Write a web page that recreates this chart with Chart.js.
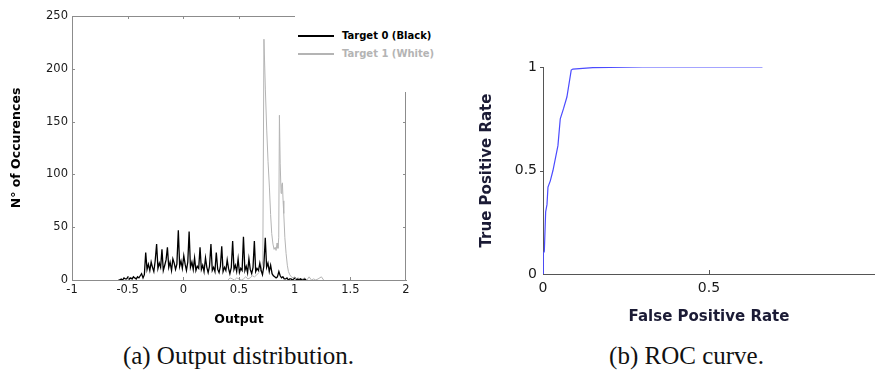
<!DOCTYPE html>
<html>
<head>
<meta charset="utf-8">
<script src="https://cdn.jsdelivr.net/npm/chart.js@4.4.1/dist/chart.umd.min.js"></script>
<style>
  html, body { margin: 0; padding: 0; background: #fff; overflow: hidden; }
  body { width: 875px; height: 378px; position: relative; }
  canvas { position: absolute; top: 0; }
  #cLeft { left: 0; }
  #cRight { left: 440px; }
  .legend { position: absolute; left: 295px; top: 0; width: 145px; height: 92px; background: #fff; z-index: 2;
            font-family: "DejaVu Sans", sans-serif; font-weight: bold; font-size: 10px; }
  .legend .row { position: absolute; left: 3px; height: 14px; line-height: 14px; white-space: nowrap; }
  .legend .sw { position: absolute; left: 0; top: 6px; width: 36px; height: 2px; }
  .legend .tx { position: absolute; left: 44px; top: 0; }
  .cap { position: absolute; top: 340px; height: 32px; line-height: 32px; text-align: center;
         font-family: "Liberation Serif", "DejaVu Serif", serif; font-size: 25px; color: #111; white-space: nowrap; }
</style>
</head>
<body>
<canvas id="cLeft" width="440" height="335"></canvas>
<canvas id="cRight" width="435" height="335"></canvas>
<div class="legend">
  <div class="row" style="top:29px"><div class="sw" style="background:#000"></div><div class="tx" style="color:#000">Target 0 (Black)</div></div>
  <div class="row" style="top:47px"><div class="sw" style="background:#b4b4b4"></div><div class="tx" style="color:#b4b4b4">Target 1 (White)</div></div>
</div>
<div class="cap" style="left:0;width:477px">(a) Output distribution.</div>
<div class="cap" style="left:498px;width:377px">(b) ROC curve.</div>
<script>
// ---------- data ----------
const seriesNames = ["Target 0 (Black)", "Target 1 (White)"];

const target0Output = [
  -0.582,-0.570,-0.558,-0.545,-0.533,-0.521,-0.509,-0.497,-0.484,-0.472,
  -0.460,-0.448,-0.436,-0.423,-0.411,-0.399,-0.387,-0.375,-0.362,-0.350,
  -0.338,-0.326,-0.314,-0.301,-0.289,-0.277,-0.265,-0.253,-0.240,-0.228,
  -0.216,-0.204,-0.192,-0.180,-0.167,-0.155,-0.143,-0.131,-0.119,-0.106,
  -0.094,-0.082,-0.070,-0.058,-0.045,-0.033,-0.021,-0.009,0.004,0.016,
  0.028,0.040,0.052,0.064,0.077,0.089,0.101,0.113,0.125,0.138,
  0.150,0.162,0.174,0.186,0.199,0.211,0.223,0.235,0.248,0.260,
  0.272,0.284,0.296,0.309,0.321,0.333,0.345,0.357,0.370,0.382,
  0.394,0.406,0.418,0.431,0.443,0.455,0.467,0.479,0.492,0.504,
  0.516,0.528,0.540,0.553,0.565,0.577,0.589,0.601,0.614,0.626,
  0.638,0.650,0.662,0.675,0.687,0.699,0.711,0.723,0.736,0.748,
  0.760,0.772,0.784,0.797,0.809,0.821,0.833,0.845,0.858,0.870,
  0.882,0.894,0.906,0.919,0.931,0.943,0.955,0.967,0.980,0.992,
  1.004,1.016,1.028,1.041,1.053,1.065,1.077,1.089,1.102
];
const target0Count = [
  0,0,1,0,2,1,1,3,1,2,1,3,2,1,3,2,4,6,2,5,
  26,10,15,9, 17,12,8,18, 34,11,16,12, 29,9,14,19,
  31,12,17,9, 20,16,10,15, 47,13,18,11, 23,15,9,17,
  46,12,17,10, 21,9,13,11, 31,10,14,8, 21,12,7,13,
  34,9,12,8, 26,10,7,13, 32,8,12,9, 19,11,6,12,
  37,10,14,8, 20,7,11,9, 41,9,13,7, 20,10,6,12,
  37,8,11,9, 16,9,5,13, 40,12,16,8,
  14,6,4,3,2,3,
  8,4,2,3,1,
  1,2,0,1,1,0,1,2,0,1,0,1,0,0,1,0
];

const target1Output = [
  0.400,0.420,0.440,0.460,0.480,0.500,0.520,0.540,0.560,0.580,0.600,0.620,0.640,0.660,0.680,0.700,
  0.714,0.724,0.737,0.749,0.761,0.773,0.784,0.794,0.805,0.815,
  0.825,0.833,0.842,0.850,0.857,0.863,0.870,0.878,0.884,0.890,
  0.896,0.902,0.912,0.923,0.934,0.944,0.956,0.970,0.985,1.000,
  1.015,1.030,1.050,1.070,1.090,1.110,1.130,1.150,1.170,1.190,
  1.210,1.240,1.260
];
const target1Count = [
  0,2,1,0,2,1,0,1,3,1,2,4,3,5,7,10,
  18,228,180,142,112,88,62,44,34,29,
  31,28,35,30,40,156,110,82,90,92,
  75,63,40,25,14,8,5,3,2,3,
  1,2,1,1,2,0,3,0,1,0,
  1,3,0
];

const histXTicks = [-1, -0.5, 0, 0.5, 1, 1.5, 2];
const histYTicks = [0, 50, 100, 150, 200, 250];

const rocFPR = [0, 0.001, 0.004, 0.008, 0.012, 0.015, 0.022, 0.030, 0.045, 0.052, 0.062, 0.072, 0.085, 0.090, 0.150, 0.300, 0.500, 0.661];
const rocTPR = [0, 0.100, 0.110, 0.300, 0.335, 0.420, 0.450, 0.500, 0.620, 0.750, 0.800, 0.855, 0.985, 0.990, 0.997, 1.000, 1.000, 1.000];
const rocXTicks = [0, 0.5];
const rocYTicks = [0, 0.5, 1];

// ---------- helpers ----------
Chart.defaults.font.family = "'DejaVu Sans', sans-serif";
Chart.defaults.animation = false;

function pts(xs, ys) { return xs.map((x, i) => ({ x: x, y: ys[i] })); }
function fixedTicks(arr) { return function (scale) { scale.ticks = arr.map(v => ({ value: v })); }; }
function fmt(v) { return String(v); }

const histAxis = '#8c8c8c';
const histFrame = {
  id: 'histFrame',
  afterDraw(chart) {
    const { ctx, chartArea: a, scales: { x, y } } = chart;
    ctx.save();
    ctx.strokeStyle = histAxis;
    ctx.lineWidth = 1;
    ctx.beginPath();
    ctx.moveTo(a.left, Math.round(a.top) + 0.5); ctx.lineTo(a.right, Math.round(a.top) + 0.5);
    ctx.moveTo(Math.round(a.right) - 0.5, a.top); ctx.lineTo(Math.round(a.right) - 0.5, a.bottom);
    x.ticks.forEach(t => {
      if (t.value === x.min || t.value === x.max) return;
      const p = Math.round(x.getPixelForValue(t.value)) + 0.5;
      ctx.moveTo(p, a.bottom); ctx.lineTo(p, a.bottom - 3);
      ctx.moveTo(p, a.top); ctx.lineTo(p, a.top + 3);
    });
    y.ticks.forEach(t => {
      if (t.value === y.min || t.value === y.max) return;
      const p = Math.round(y.getPixelForValue(t.value)) + 0.5;
      ctx.moveTo(a.left, p); ctx.lineTo(a.left + 3, p);
      ctx.moveTo(a.right, p); ctx.lineTo(a.right - 3, p);
    });
    ctx.stroke();
    ctx.restore();
  }
};

new Chart(document.getElementById('cLeft'), {
  type: 'line',
  data: {
    datasets: [
      { label: seriesNames[0], data: pts(target0Output, target0Count), borderColor: '#000', borderWidth: 1.3, pointRadius: 0, tension: 0 },
      { label: seriesNames[1], data: pts(target1Output, target1Count), borderColor: '#b4b4b4', borderWidth: 1, pointRadius: 0, tension: 0 }
    ]
  },
  options: {
    responsive: false,
    layout: { padding: { left: 0, top: 16, right: 34, bottom: 0 } },
    plugins: { legend: { display: false }, tooltip: { enabled: false } },
    scales: {
      x: {
        type: 'linear', min: -1, max: 2,
        afterBuildTicks: fixedTicks(histXTicks),
        afterFit(s) { s.height = 55; },
        grid: { display: false, drawTicks: false },
        border: { display: true, color: histAxis, width: 1 },
        ticks: { padding: 3, color: '#1a1a1a', font: { size: 11.5 }, callback: fmt, maxRotation: 0 },
        title: { display: true, text: 'Output', color: '#000', font: { size: 12.5, weight: 'bold' }, padding: { top: 7.5, bottom: 7.5 } }
      },
      y: {
        type: 'linear', min: 0, max: 250,
        afterBuildTicks: fixedTicks(histYTicks),
        afterFit(s) { s.width = 72; },
        grid: { display: false, drawTicks: false },
        border: { display: true, color: histAxis, width: 1 },
        ticks: { padding: 4, color: '#1a1a1a', font: { size: 11.5 }, callback: fmt },
        title: { display: true, text: 'N° of Occurences', color: '#000', font: { size: 12.5, weight: 'bold' }, padding: { top: 9.5, bottom: 9.5 } }
      }
    }
  },
  plugins: [histFrame]
});

const rocAxis = '#555';
const rocTicks = {
  id: 'rocTicks',
  afterDraw(chart) {
    const { ctx, chartArea: a, scales: { x, y } } = chart;
    ctx.save();
    ctx.strokeStyle = rocAxis;
    ctx.lineWidth = 1;
    ctx.beginPath();
    x.ticks.forEach(t => {
      if (t.value === x.min) return;
      const p = Math.round(x.getPixelForValue(t.value)) + 0.5;
      ctx.moveTo(p, a.bottom); ctx.lineTo(p, a.bottom - 4);
    });
    y.ticks.forEach(t => {
      if (t.value === y.min) return;
      const p = Math.round(y.getPixelForValue(t.value)) + 0.5;
      ctx.moveTo(a.left, p); ctx.lineTo(a.left - 3, p);
    });
    ctx.stroke();
    ctx.restore();
  }
};

new Chart(document.getElementById('cRight'), {
  type: 'line',
  data: {
    datasets: [
      { label: 'ROC', data: pts(rocFPR, rocTPR), borderColor: '#4b4bff', borderWidth: 1.2, pointRadius: 0, tension: 0 }
    ]
  },
  options: {
    responsive: false,
    layout: { padding: { left: 0, top: 67, right: 0, bottom: 0 } },
    plugins: { legend: { display: false }, tooltip: { enabled: false } },
    scales: {
      x: {
        type: 'linear', min: 0, max: 1,
        afterBuildTicks: fixedTicks(rocXTicks),
        afterFit(s) { s.height = 61; },
        grid: { display: false, drawTicks: false },
        border: { display: true, color: rocAxis, width: 1 },
        ticks: { padding: 6, color: '#1a1a1a', font: { size: 14 }, callback: fmt, maxRotation: 0 },
        title: { display: true, text: 'False Positive Rate', color: '#1b1b35', font: { size: 15, weight: 'bold' }, padding: { top: 9, bottom: 9 } }
      },
      y: {
        type: 'linear', min: 0, max: 1,
        afterBuildTicks: fixedTicks(rocYTicks),
        afterFit(s) { s.width = 103; },
        grid: { display: false, drawTicks: false },
        border: { display: true, color: rocAxis, width: 1 },
        ticks: { padding: 6, color: '#1a1a1a', font: { size: 14 }, callback: fmt },
        title: { display: true, text: 'True Positive Rate', color: '#1b1b35', font: { size: 15, weight: 'bold' }, padding: { top: 38, bottom: 38 } }
      }
    }
  },
  plugins: [rocTicks]
});
</script>
</body>
</html>
